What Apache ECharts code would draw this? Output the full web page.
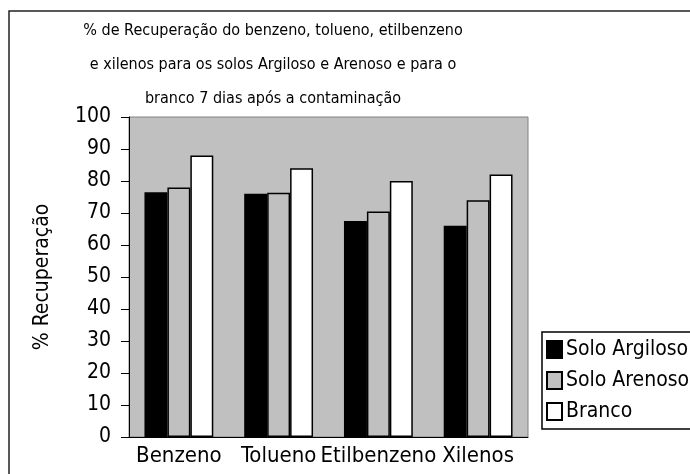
<!DOCTYPE html>
<html><head><meta charset="utf-8">
<script src="https://cdn.jsdelivr.net/npm/echarts@6/dist/echarts.min.js"></script>
<style>html,body{margin:0;padding:0;background:#fff}#c{width:690px;height:474px}</style>
</head><body><div id="c"></div>
<script>
const categories = ['Benzeno', 'Tolueno', 'Etilbenzeno', 'Xilenos'];
const soloArgiloso = [76.5, 76, 67.5, 66];
const soloArenoso = [78, 76.3, 70.5, 74];
const branco = [88, 84, 80, 82];
const seriesNames = ['Solo Argiloso', 'Solo Arenoso', 'Branco'];
const titleLines = ['% de Recuperação do benzeno, tolueno, etilbenzeno', 'e xilenos para os solos Argiloso e Arenoso e para o', 'branco 7 dias após a contaminação'];
const yName = '% Recuperação';

const FF = '"DejaVu Sans Condensed", "Liberation Sans Narrow", sans-serif';
const chart = echarts.init(document.getElementById('c'));
const bar = (name, data, color) => ({
  name, type: 'bar', data, barGap: '0%', barCategoryGap: '31%',
  itemStyle: { color, borderColor: '#000', borderWidth: 1.5 }
});
chart.setOption({
  animation: false,
  backgroundColor: '#fff',
  title: titleLines.map((t, i) => ({
    text: t, left: 268, top: 18 + i * 34, textAlign: 'center',
    textStyle: { fontFamily: FF, fontSize: 16, fontWeight: 'normal', color: '#000' }
  })),
  graphic: [{
    type: 'rect', shape: { x: 9, y: 11, width: 700, height: 500 },
    style: { fill: 'none', stroke: '#222', lineWidth: 1.5 }, silent: true
  }],
  legend: {
    orient: 'vertical', left: 542, top: 332, itemWidth: 15, itemHeight: 17, itemGap: 10,
    backgroundColor: '#fff', borderColor: '#000', borderWidth: 1.5, padding: [7, 40, 7, 4],
    icon: 'rect', data: seriesNames,
    textStyle: { fontFamily: FF, fontSize: 21, color: '#000', padding: [0, 0, 0, -1] }
  },
  grid: {
    left: 129, right: 162, top: 117, bottom: 37, show: true,
    backgroundColor: '#c0c0c0', borderColor: '#808080', borderWidth: 1
  },
  xAxis: {
    type: 'category', data: categories,
    axisLine: { lineStyle: { color: '#000', width: 1 } },
    axisTick: { show: false },
    axisLabel: { fontFamily: FF, fontSize: 22, color: '#000', margin: 8, interval: 0 }
  },
  yAxis: {
    type: 'value', min: 0, max: 100, interval: 10,
    name: yName, nameLocation: 'middle', nameGap: 76, nameRotate: 90,
    nameTextStyle: { fontFamily: FF, fontSize: 21, color: '#000' },
    axisLine: { show: true, lineStyle: { color: '#000', width: 1 } },
    axisTick: { show: true, inside: false, length: 8, lineStyle: { color: '#000' } },
    splitLine: { show: false },
    axisLabel: { fontFamily: FF, fontSize: 21, color: '#000', margin: 18 }
  },
  series: [
    bar(seriesNames[0], soloArgiloso, '#000'),
    bar(seriesNames[1], soloArenoso, '#c0c0c0'),
    bar(seriesNames[2], branco, '#fff')
  ]
});
</script></body></html>
